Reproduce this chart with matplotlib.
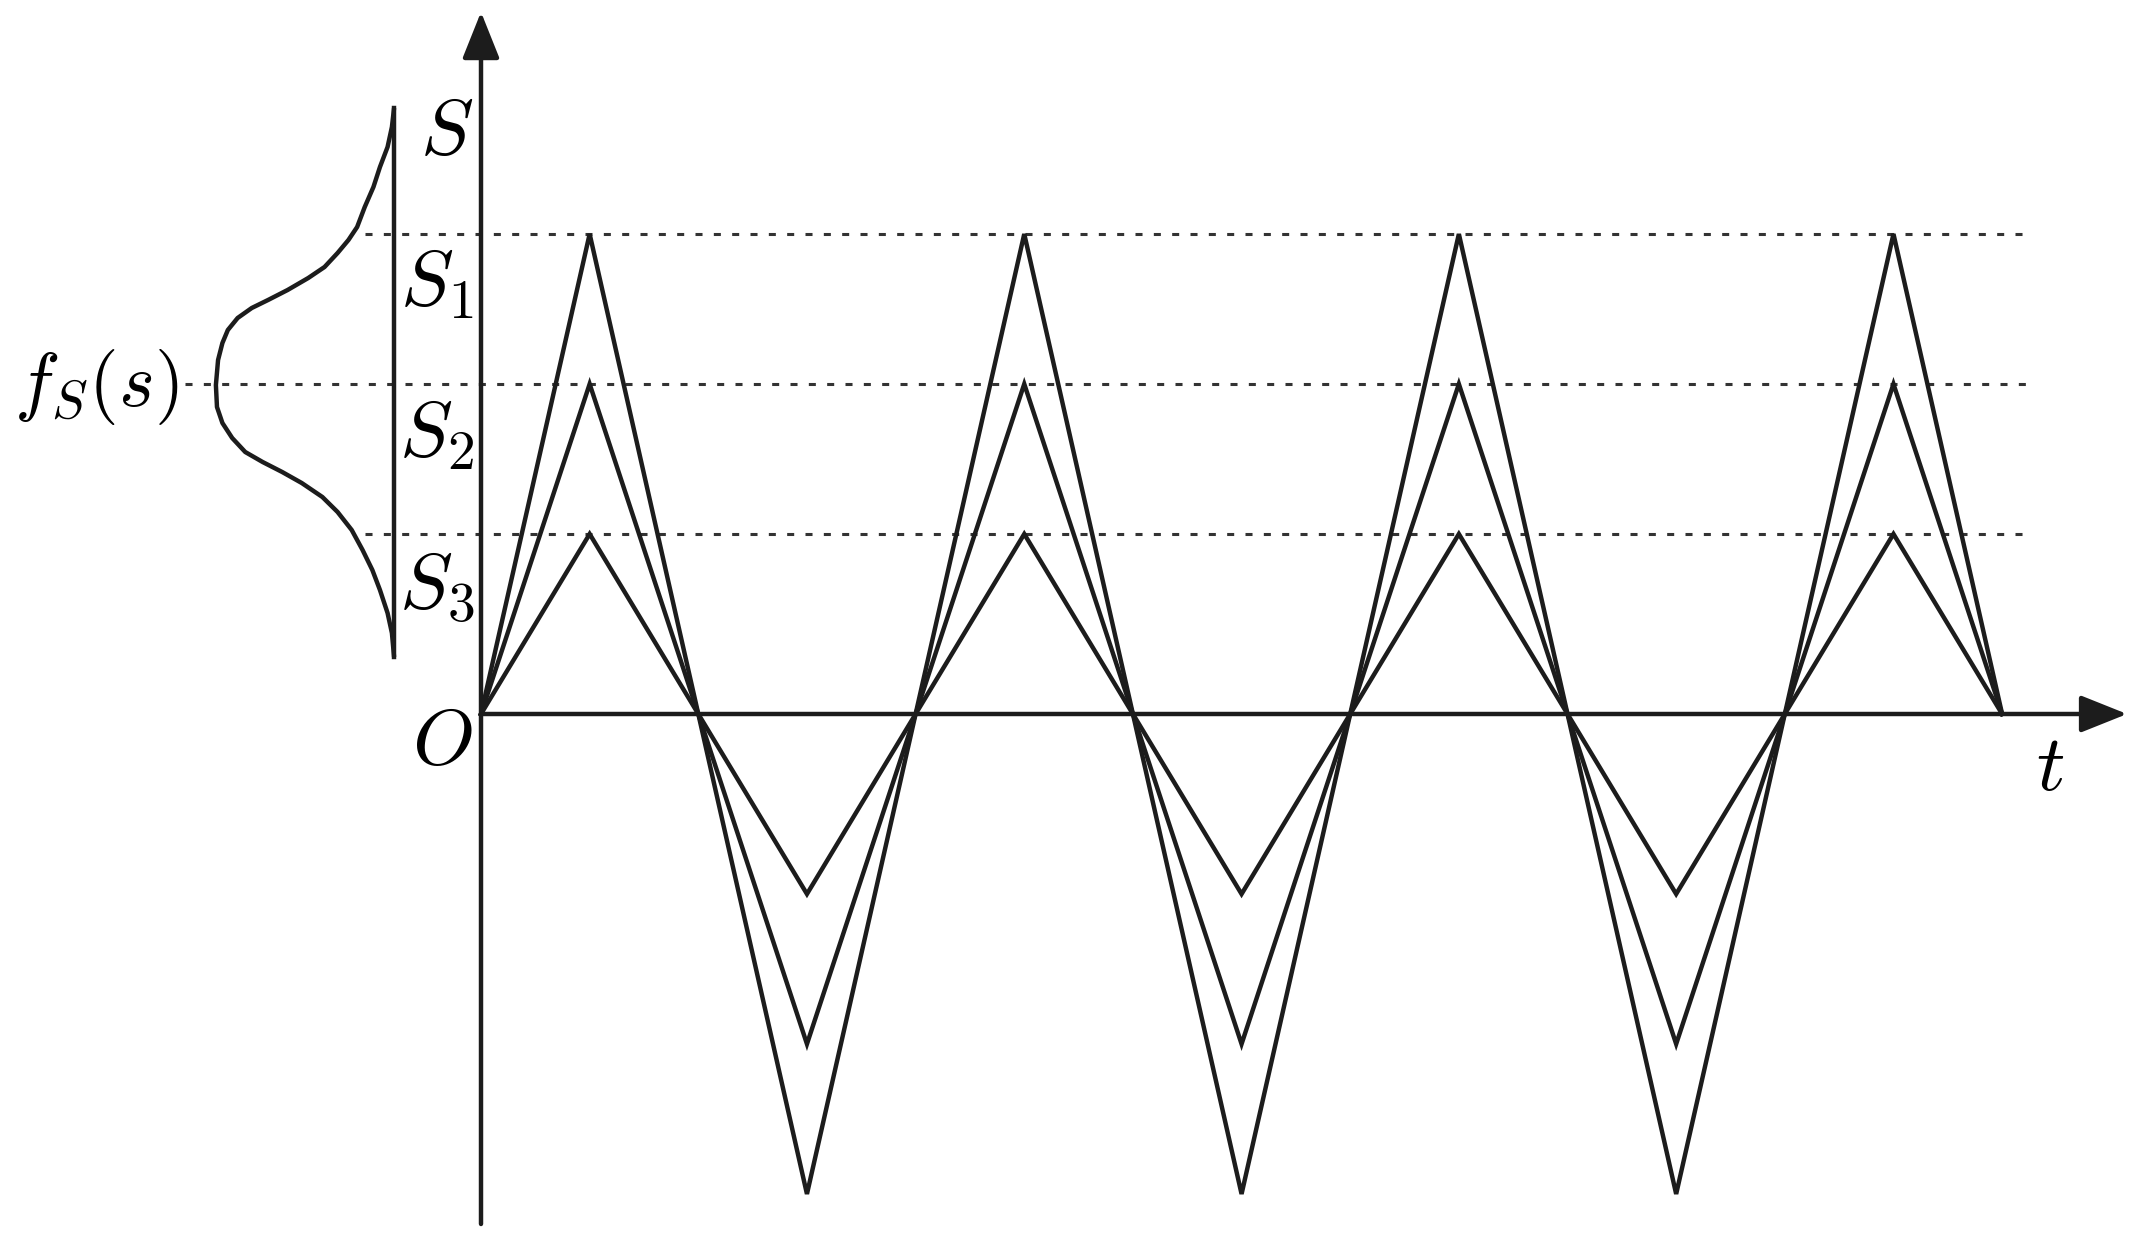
import matplotlib
matplotlib.use("Agg")
import matplotlib.pyplot as plt

plt.rcParams["mathtext.fontset"] = "cm"

# time axis in quarter periods (3.5 periods drawn)
t_points = list(range(15))
wave_shape = [0, 1, 0, -1, 0, 1, 0, -1, 0, 1, 0, -1, 0, 1, 0]

# stress amplitude levels
level_names = ["S_1", "S_2", "S_3"]
level_values = [4.80, 3.30, 1.80]

# probability density f_S(s) drawn sideways: s values and width of the curve
pdf_s = [6.06, 5.87, 5.67, 5.47, 5.27, 5.07, 4.87, 4.74, 4.61, 4.47, 4.36,
         4.24, 4.14, 4.06, 3.96, 3.84, 3.71, 3.54, 3.29, 3.07, 2.91, 2.76,
         2.62, 2.52, 2.42, 2.31, 2.17, 2.02, 1.84, 1.64, 1.44, 1.24, 1.01,
         0.81, 0.57]
pdf_f = [0.00, 0.02, 0.06, 0.13, 0.19, 0.27, 0.34, 0.42, 0.52, 0.64, 0.79,
         0.98, 1.16, 1.31, 1.44, 1.53, 1.58, 1.62, 1.64, 1.63, 1.58, 1.49,
         1.37, 1.21, 1.03, 0.85, 0.66, 0.52, 0.39, 0.29, 0.20, 0.13, 0.06,
         0.02, 0.00]
pdf_base = -0.80

ink = "#1c1c1c"
lw = 3.2

fig = plt.figure(figsize=(21.5, 12.47), dpi=100)
ax = fig.add_axes([0, 0, 1, 1])
ax.set_xlim(-4.427, 15.361)
ax.set_ylim(-5.33, 7.14)
ax.axis("off")

# dashed reference lines at each level
for name, val in zip(level_names, level_values):
    start = -2.72 if name == "S_2" else -1.07
    ax.plot([start, 14.27], [val, val], color="#333333", lw=2.2,
            linestyle=(0, (2.3, 3.7)), zorder=1)

# triangular load histories
for val in level_values:
    ax.plot(t_points, [v * val for v in wave_shape], color=ink, lw=lw,
            solid_joinstyle="miter", zorder=3)

# axes with arrow heads
arrow = dict(arrowstyle="-|>,head_length=0.4,head_width=0.16",
             mutation_scale=72, color=ink, lw=lw, shrinkA=0, shrinkB=0)
ax.annotate("", xy=(15.15, 0), xytext=(0, 0), arrowprops=arrow, zorder=4)
ax.annotate("", xy=(0, 7.02), xytext=(0, -5.10), arrowprops=arrow, zorder=4)

# density curve and its vertical base line
ax.plot([pdf_base - f for f in pdf_f], pdf_s, color=ink, lw=lw,
        solid_joinstyle="round", solid_capstyle="butt", zorder=3)
ax.plot([pdf_base, pdf_base], [pdf_s[0], pdf_s[-1]], color=ink, lw=lw,
        zorder=3)

# labels
fs = 57
ax.text(-0.32, 5.82, r"$S$", fontsize=fs, ha="center", va="center")
for name, y in zip(level_names, [4.30, 2.79, 1.27]):
    ax.text(-0.41, y, r"$%s$" % name, fontsize=fs, ha="center", va="center")
ax.text(-3.54, 3.27, r"$f_S(s)$", fontsize=55, ha="center", va="center")
ax.text(-0.36, -0.28, r"$O$", fontsize=fs, ha="center", va="center")
ax.text(14.44, -0.54, r"$t$", fontsize=fs, ha="center", va="center")

fig.savefig("out.png", dpi=100, facecolor="white")
